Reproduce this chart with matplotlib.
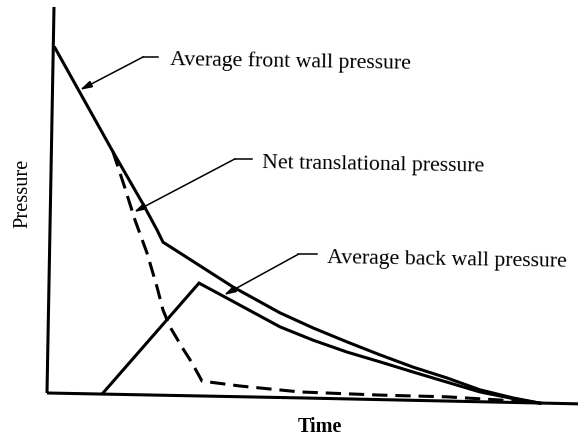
import matplotlib
matplotlib.use("Agg")
import matplotlib.pyplot as plt

# time / pressure readings (arbitrary units)
front_t = [0.16, 1.32, 1.92, 2.20, 2.32, 2.66, 3.72, 4.66, 5.32, 6.00, 6.66, 7.32, 8.00, 8.66, 9.32, 9.86]
front_p = [9.86, 6.89, 5.40, 4.66, 4.31, 4.00, 3.03, 2.29, 1.86, 1.46, 1.09, 0.74, 0.43, 0.09, -0.14, -0.29]

back_t = [1.12, 3.04, 3.60, 4.66, 5.32, 6.00, 6.66, 7.32, 8.00, 8.66, 9.46, 9.86]
back_p = [0.00, 3.14, 2.71, 1.89, 1.51, 1.17, 0.89, 0.60, 0.31, 0.03, -0.20, -0.29]

net_t = [1.32, 1.54, 1.76, 2.00, 2.20, 2.32, 2.46, 2.70, 2.90, 3.10, 3.86, 5.06, 6.66, 8.00, 9.06, 9.46]
net_p = [6.89, 5.94, 4.94, 4.00, 3.03, 2.37, 1.89, 1.31, 0.86, 0.34, 0.20, 0.03, -0.06, -0.11, -0.20, -0.26]

# hand-drawn axes (slightly skewed)
yaxis_t = [0.14, 0.0]
yaxis_p = [11.03, 0.0]
xaxis_t = [0.0, 5.06, 10.62]
xaxis_p = [0.0, -0.14, -0.31]

labels = ["Average front wall pressure", "Net translational pressure", "Average back wall pressure"]
arrow_tips = [(0.66, 8.66), (1.74, 5.17), (3.54, 2.80)]
elbows = [(1.92, 9.60), (3.76, 6.69), (5.02, 3.96)]
elbow_ends = [(2.22, 9.60), (4.10, 6.69), (5.40, 3.96)]
label_pos = [(2.46, 9.37), (4.30, 6.43), (5.60, 3.71)]

plt.rcParams["font.family"] = ["Liberation Serif", "DejaVu Serif"]

fig = plt.figure(figsize=(5.78, 4.40), dpi=100)
ax = fig.add_axes([0, 0, 1, 1])
ax.set_xlim(-0.94, 10.62)
ax.set_ylim(-1.343, 11.229)
ax.axis("off")

lw = 2.2
ax.plot(yaxis_t, yaxis_p, color="black", lw=lw, solid_capstyle="butt")
ax.plot(xaxis_t, xaxis_p, color="black", lw=lw, solid_capstyle="butt")

ax.plot(front_t, front_p, color="black", lw=lw, solid_joinstyle="miter")
ax.plot(back_t, back_p, color="black", lw=lw, solid_joinstyle="miter")
ax.plot(net_t, net_p, color="black", lw=lw, dashes=(5, 2.6))

for text, tip, elbow, end, pos in zip(labels, arrow_tips, elbows, elbow_ends, label_pos):
    ax.plot([elbow[0], end[0]], [elbow[1], end[1]], color="black", lw=1.1)
    ax.annotate("", xy=tip, xytext=elbow,
                arrowprops=dict(arrowstyle="-|>,head_length=0.7,head_width=0.2",
                                color="black", lw=1.1, shrinkA=0, shrinkB=0))
    ax.text(pos[0], pos[1], text, fontsize=15.7, ha="left", va="baseline",
            rotation=-0.9, rotation_mode="anchor")

ax.text(-0.48, 5.69, "Pressure", fontsize=14.7, rotation=90, ha="center", va="center")
ax.text(5.46, -0.97, "Time", fontsize=14.5, ha="center", va="center", fontweight="bold")

fig.savefig("out.png", dpi=100)
